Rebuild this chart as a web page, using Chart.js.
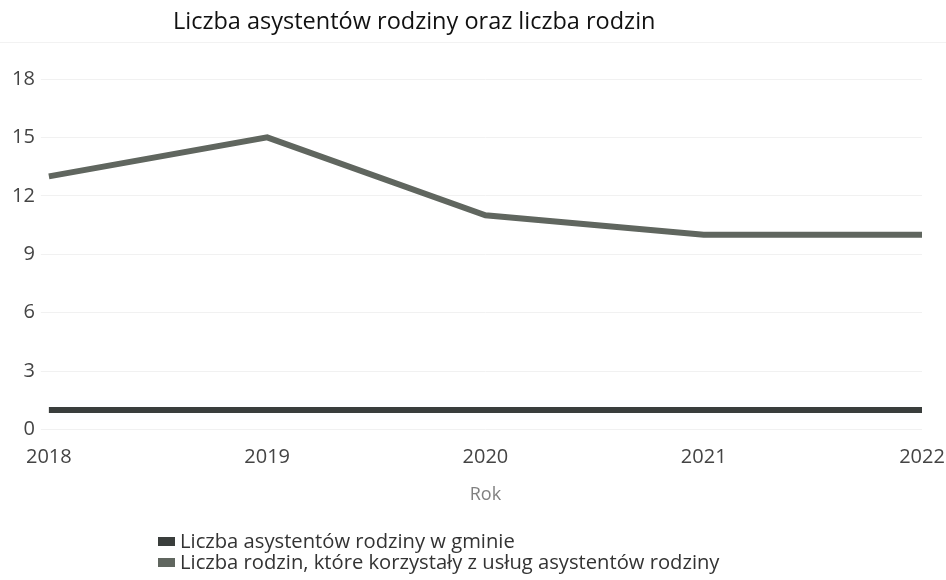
<!DOCTYPE html>
<html lang="pl">
<head>
<meta charset="utf-8">
<script src="https://cdn.jsdelivr.net/npm/chart.js@4"></script>
<style>
  body { margin: 0; background: #fff; font-family: "Open Sans", sans-serif; }
  #wrap { position: relative; width: 946px; height: 580px; }
  #title { position: absolute; left: 173px; top: 4px; font-size: 23.5px; color: #111; }
  #rule { position: absolute; left: 0; right: 0; top: 42px; border-top: 1px solid #f2f2f2; }
  #legend { position: absolute; left: 158px; top: 530px; font-size: 20.2px; color: #333; line-height: 21px; }
  #legend span.box { display: inline-block; width: 17px; height: 9px; margin-right: 5px; vertical-align: 2px; }
</style>
</head>
<body>
<div id="wrap">
  <div id="title">Liczba asystentów rodziny oraz liczba rodzin</div>
  <div id="rule"></div>
  <canvas id="chart" width="946" height="580"></canvas>
  <div id="legend"></div>
</div>
<script>
const years = ['2018', '2019', '2020', '2021', '2022'];
const assistants = [1, 1, 1, 1, 1];
const families = [13, 15, 11, 10, 10];
const seriesNames = ['Liczba asystentów rodziny w gminie', 'Liczba rodzin, które korzystały z usług asystentów rodziny'];
const seriesColors = ['#3a3e3c', '#60665f'];

const ctx = document.getElementById('chart');
Chart.defaults.font.family = '"Open Sans", sans-serif';
new Chart(ctx, {
    type: 'line',
    data: {
        labels: years,
        datasets: [{
            label: seriesNames[0],
            data: assistants,
            borderColor: seriesColors[0],
            backgroundColor: seriesColors[0],
            borderWidth: 6,
            pointRadius: 0,
            tension: 0
        }, {
            label: seriesNames[1],
            data: families,
            borderColor: seriesColors[1],
            backgroundColor: seriesColors[1],
            borderWidth: 6,
            pointRadius: 0,
            tension: 0
        }]
    },
    options: {
        responsive: false,
        animation: false,
        layout: { padding: { top: 79, left: 6, right: 0, bottom: 70 } },
        plugins: {
            legend: { display: false },
            title: { display: false },
            tooltip: { enabled: false }
        },
        scales: {
            x: {
                offset: false,
                grid: { display: false },
                border: { display: false },
                ticks: { color: '#444', font: { size: 20 }, padding: 8, maxRotation: 0 },
                title: { display: true, text: 'Rok', color: '#808080', font: { size: 18 }, padding: { top: 7 } },
                // last year label may hang a bit past the plot edge, as in the original
                afterFit: function (scale) { scale.paddingRight = 24; }
            },
            y: {
                min: 0,
                max: 18,
                grid: { color: '#f1f1f1' },
                border: { display: false },
                ticks: { stepSize: 3, color: '#444', font: { size: 20 }, padding: 6 }
            }
        }
    }
});

// legend as plain text below the plot
const legend = document.getElementById('legend');
seriesNames.forEach((name, i) => {
    const row = document.createElement('div');
    row.innerHTML = '<span class="box" style="background:' + seriesColors[i] + '"></span>' + name;
    legend.appendChild(row);
});
</script>
</body>
</html>
